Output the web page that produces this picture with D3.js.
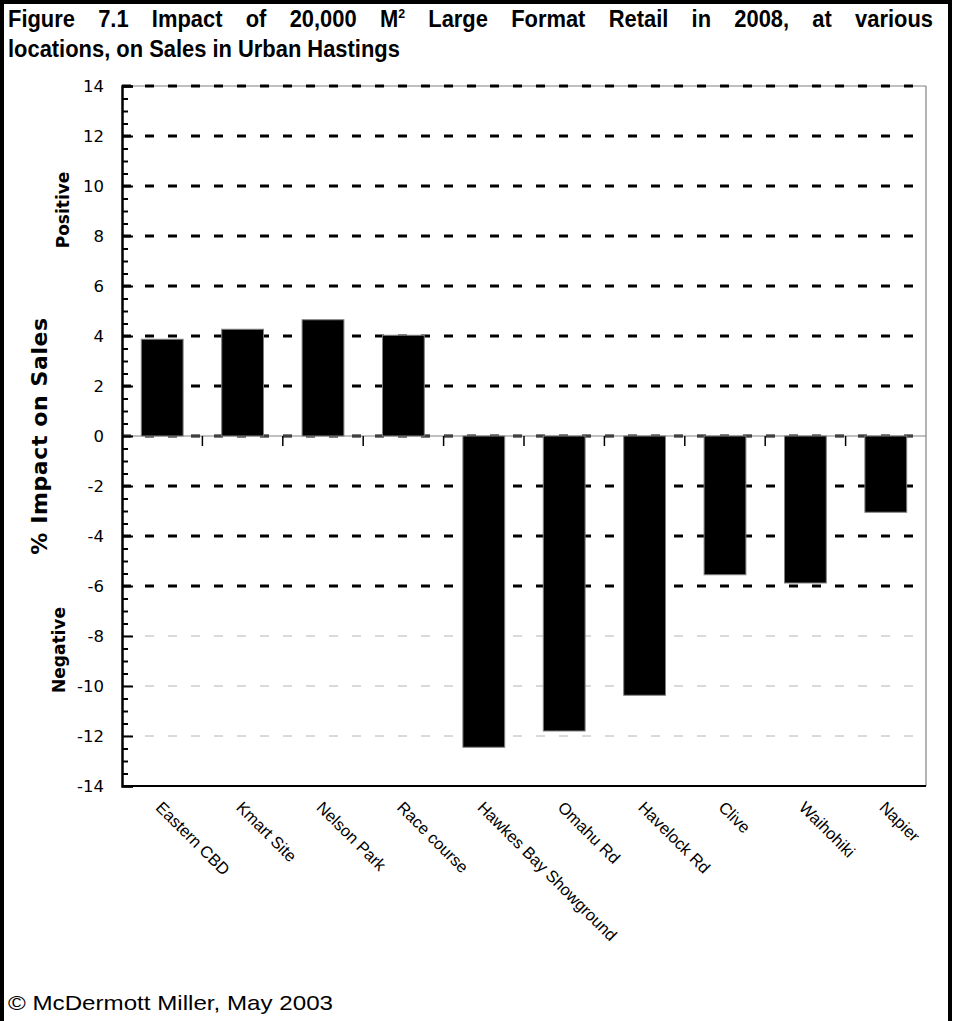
<!DOCTYPE html>
<html>
<head>
<meta charset="utf-8">
<script src="https://cdn.jsdelivr.net/npm/d3@7"></script>
<style>
  html, body { margin: 0; padding: 0; background: #fff; }
  svg { display: block; }
</style>
</head>
<body>
<svg id="chart" width="954" height="1021"></svg>
<script>
// ---- data ----
const categories = ["Eastern CBD", "Kmart Site", "Nelson Park", "Race course", "Hawkes Bay Showground",
                    "Omahu Rd", "Havelock Rd", "Clive", "Waihohiki", "Napier"];
const values = [3.87, 4.27, 4.65, 4.03, -12.45, -11.8, -10.37, -5.55, -5.88, -3.05];
const yTickValues = [-14, -12, -10, -8, -6, -4, -2, 0, 2, 4, 6, 8, 10, 12, 14];
const yMinorStep = 0.5;
const titleLine1 = "Figure 7.1 Impact of 20,000 M^2 Large Format Retail in 2008, at various";
const titleLine2 = "locations, on Sales in Urban Hastings";
const yAxisTitle = "% Impact on Sales";
const positiveLabel = "Positive";
const negativeLabel = "Negative";
const footerText = "\u00A9 McDermott Miller, May 2003";

// ---- layout ----
const svg = d3.select("#chart");
const plot = { left: 122, right: 926, top: 86, bottom: 786 };

const x = d3.scaleBand().domain(categories).range([plot.left, plot.right])
  .paddingInner(0.48).paddingOuter(0.24);
const y = d3.scaleLinear().domain([-14, 14]).range([plot.bottom, plot.top]);

// outer frame (left, top, right; open at bottom)
svg.append("rect").attr("x", 0).attr("y", 0).attr("width", 4).attr("height", 1021).attr("fill", "#000");
svg.append("rect").attr("x", 0).attr("y", 0).attr("width", 952).attr("height", 4).attr("fill", "#000");
svg.append("rect").attr("x", 948).attr("y", 0).attr("width", 4).attr("height", 1021).attr("fill", "#000");

// ---- title (justified first line, condensed bold) ----
const titleFont = "'Liberation Sans', Arial, sans-serif";
const titleSize = 23;
const tmp = svg.append("text").attr("font-family", titleFont).attr("font-weight", "bold")
  .attr("font-size", titleSize).text(titleLine2);
const natural2 = tmp.node().getComputedTextLength();
tmp.remove();
const squeeze = 392 / natural2;

svg.append("text")
  .attr("transform", `translate(8,57) scale(${squeeze},1)`)
  .attr("font-family", titleFont).attr("font-weight", "bold").attr("font-size", titleSize)
  .text(titleLine2);

const words = titleLine1.split(" ");
const wordNodes = words.map(w => {
  const t = svg.append("text").attr("font-family", titleFont).attr("font-weight", "bold")
    .attr("font-size", titleSize);
  if (w.includes("^")) {
    const [base, sup] = w.split("^");
    t.append("tspan").text(base);
    t.append("tspan").attr("font-size", 13).attr("dy", -9).text(sup);
  } else {
    t.text(w);
  }
  return t;
});
const widths = wordNodes.map(t => t.node().getComputedTextLength() * squeeze);
const totalW = d3.sum(widths);
const lineStart = 8, lineEnd = 933;
const gap = (lineEnd - lineStart - totalW) / (words.length - 1);
let cursor = lineStart;
wordNodes.forEach((t, i) => {
  t.attr("transform", `translate(${cursor},27) scale(${squeeze},1)`);
  cursor += widths[i] + gap;
});

// ---- plot frame and gridlines ----
const g = svg.append("g");

g.append("line").attr("x1", plot.left).attr("x2", plot.right).attr("y1", plot.top).attr("y2", plot.top)
  .attr("stroke", "#808080").attr("stroke-width", 1);
g.append("line").attr("x1", plot.right).attr("x2", plot.right).attr("y1", plot.top).attr("y2", plot.bottom)
  .attr("stroke", "#808080").attr("stroke-width", 1.2);

const gridVals = yTickValues.filter(v => v > -14);
g.selectAll("line.grid").data(gridVals).join("line")
  .attr("class", "grid")
  .attr("x1", plot.left).attr("x2", plot.right)
  .attr("y1", d => y(d)).attr("y2", d => y(d))
  .attr("stroke", d => d <= -8 ? "#b4b4b4" : "#000")
  .attr("stroke-width", d => d <= -8 ? 1 : 3)
  .attr("stroke-dasharray", "9,14");

g.append("line").attr("x1", plot.left).attr("x2", plot.right).attr("y1", y(0)).attr("y2", y(0))
  .attr("stroke", "#808080").attr("stroke-width", 1);

g.selectAll("rect.bar").data(categories).join("rect")
  .attr("class", "bar")
  .attr("x", d => x(d))
  .attr("width", x.bandwidth())
  .attr("y", (d, i) => y(Math.max(0, values[i])))
  .attr("height", (d, i) => Math.abs(y(values[i]) - y(0)))
  .attr("fill", "#000")
  .attr("stroke", "#808080")
  .attr("stroke-width", 1);

const halfGap = (x.step() - x.bandwidth()) / 2;
g.selectAll("line.xtick").data(categories.slice(1)).join("line")
  .attr("class", "xtick")
  .attr("x1", d => x(d) - halfGap).attr("x2", d => x(d) - halfGap)
  .attr("y1", y(0)).attr("y2", y(0) + 10)
  .attr("stroke", "#000").attr("stroke-width", 1.5);

g.append("line").attr("x1", plot.left).attr("x2", plot.right).attr("y1", plot.bottom).attr("y2", plot.bottom)
  .attr("stroke", "#000").attr("stroke-width", 2);

// minor y ticks
const minorVals = d3.range(-14, 14 + 1e-9, yMinorStep).filter(v => Math.abs(v % 2) > 1e-9);
const minorAxis = d3.axisLeft(y).tickValues(minorVals).tickSize(-6).tickFormat("");
const gm = svg.append("g").attr("transform", `translate(${plot.left},0)`).call(minorAxis);
gm.select(".domain").remove();
gm.selectAll(".tick line").attr("stroke", "#000").attr("stroke-width", 2);

// major y axis
const yAxis = d3.axisLeft(y).tickValues(yTickValues).tickSize(-11).tickPadding(18)
  .tickFormat(d => String(d));
const gy = svg.append("g").attr("transform", `translate(${plot.left},0)`).call(yAxis);
gy.select(".domain").attr("stroke", "#000").attr("stroke-width", 2.5);
gy.selectAll(".tick line").attr("stroke", "#000").attr("stroke-width", 2);
gy.selectAll(".tick text")
  .attr("font-family", "'DejaVu Sans', Verdana, sans-serif")
  .attr("font-size", 16.5)
  .attr("fill", "#000")
  .attr("dy", "0.36em");

// category labels
svg.selectAll("text.cat").data(categories).join("text")
  .attr("class", "cat")
  .attr("transform", d => `translate(${x(d) + x.bandwidth() / 2 + 1},800) rotate(45)`)
  .attr("dy", "0.72em")
  .attr("font-family", "'Liberation Sans', Arial, sans-serif")
  .attr("font-size", 16.5)
  .attr("fill", "#000")
  .text(d => d);

// y axis titles
const sideFont = "'DejaVu Sans', Verdana, sans-serif";
svg.append("text")
  .attr("transform", `translate(47,${y(0)}) rotate(-90)`)
  .attr("text-anchor", "middle")
  .attr("font-family", sideFont).attr("font-weight", "bold").attr("font-size", 22)
  .attr("letter-spacing", 0.6)
  .text(yAxisTitle);
svg.append("text")
  .attr("transform", `translate(69,${y(9.04)}) rotate(-90)`)
  .attr("text-anchor", "middle")
  .attr("font-family", sideFont).attr("font-weight", "bold").attr("font-size", 17)
  .text(positiveLabel);
svg.append("text")
  .attr("transform", `translate(65,${y(-8.56)}) rotate(-90)`)
  .attr("text-anchor", "middle")
  .attr("font-family", sideFont).attr("font-weight", "bold").attr("font-size", 17)
  .text(negativeLabel);

// footer
svg.append("text")
  .attr("x", 8).attr("y", 1010)
  .attr("font-family", "'Liberation Sans', Arial, sans-serif")
  .attr("font-size", 21)
  .attr("textLength", 325).attr("lengthAdjust", "spacingAndGlyphs")
  .text(footerText);
</script>
</body>
</html>
